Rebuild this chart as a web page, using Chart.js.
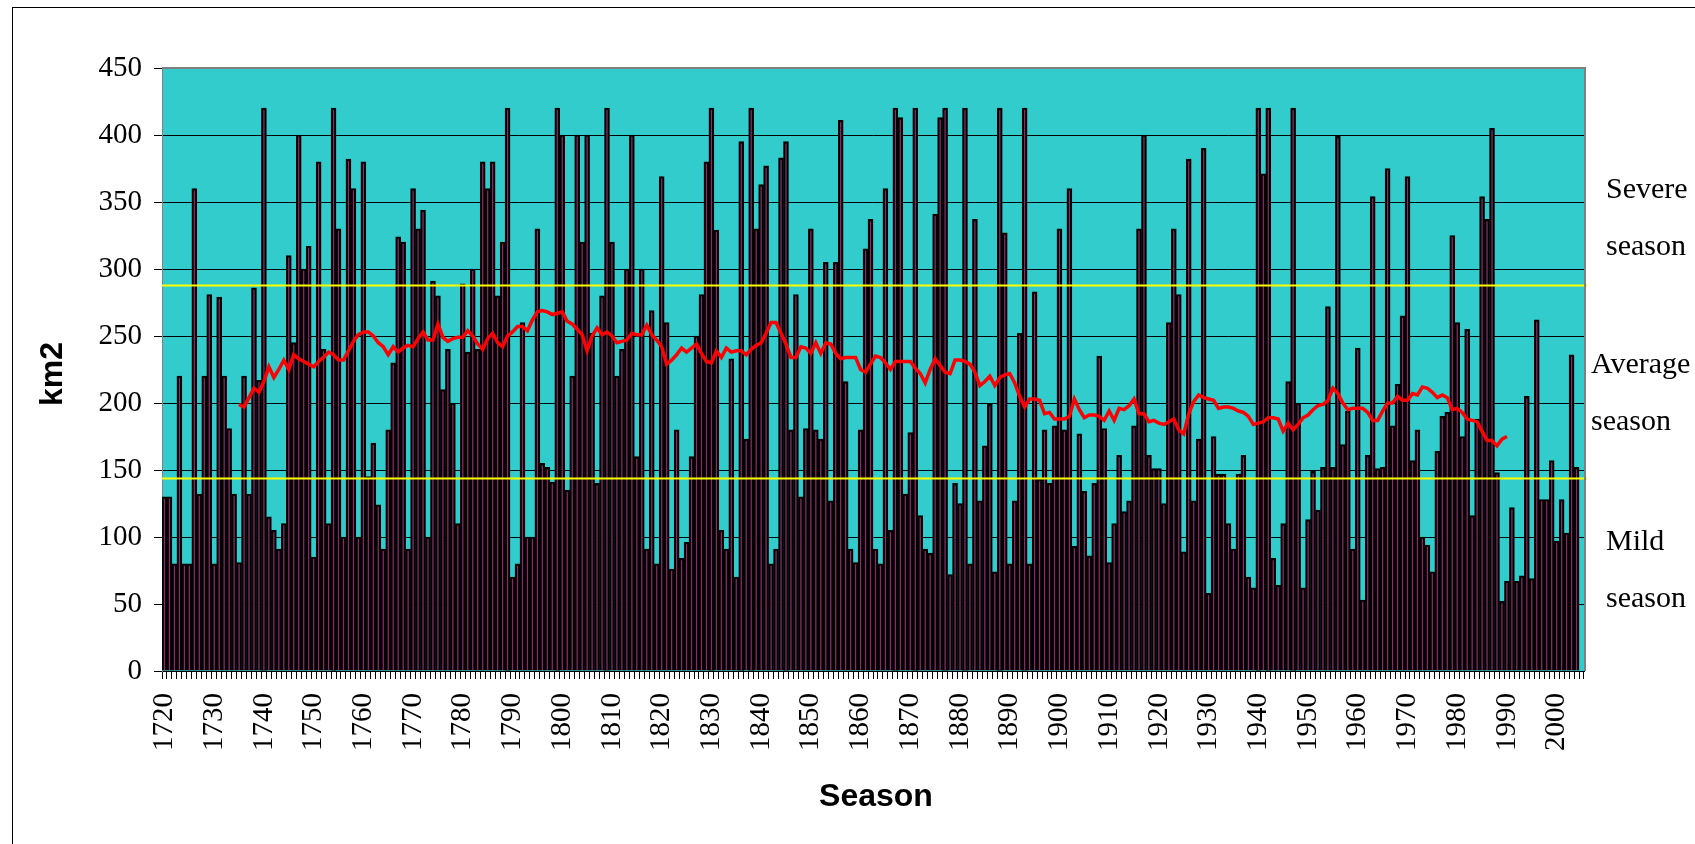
<!DOCTYPE html>
<html>
<head>
<meta charset="utf-8">
<script src="https://cdn.jsdelivr.net/npm/chart.js@4.4.1/dist/chart.umd.min.js"></script>
<style>
  html, body { margin: 0; padding: 0; background: #fff; }
  #chart_canvas { display: block; }
</style>
</head>
<body>
<canvas id="chart_canvas" width="1695" height="844"></canvas>
<script>
// seasons 1720..2005, one bar per season (km2)
const firstYear = 1720;
const lastYear = 2005;

const seasonArea = [
	130, 130, 80, 220, 80, 80, 360, 132, 220, 281,      // 1720s
	80, 279, 220, 181, 132, 81, 220, 132, 286, 217,     // 1730s
	420, 115, 105, 91, 110, 310, 245, 400, 300, 317,    // 1740s
	85, 380, 240, 110, 420, 330, 100, 382, 360, 100,    // 1750s
	380, 145, 170, 124, 91, 180, 230, 324, 320, 91,     // 1760s
	360, 330, 344, 100, 291, 280, 210, 240, 200, 110,   // 1770s
	289, 238, 300, 240, 380, 360, 380, 280, 320, 420,   // 1780s
	70, 80, 260, 100, 100, 330, 155, 152, 141, 420,     // 1790s
	400, 135, 220, 400, 320, 400, 252, 140, 280, 420,   // 1800s
	320, 220, 240, 300, 400, 160, 300, 91, 269, 80,     // 1810s
	369, 260, 76, 180, 84, 96, 160, 250, 281, 380,      // 1820s
	420, 329, 105, 91, 233, 70, 395, 173, 420, 330,     // 1830s
	363, 377, 80, 91, 383, 395, 180, 281, 130, 181,     // 1840s
	330, 180, 173, 305, 127, 305, 411, 216, 91, 81,     // 1850s
	180, 315, 337, 91, 80, 360, 105, 420, 413, 132,     // 1860s
	178, 420, 116, 91, 88, 341, 413, 420, 72, 140,      // 1870s
	125, 420, 80, 337, 127, 168, 199, 74, 420, 327,     // 1880s
	80, 127, 252, 420, 80, 283, 143, 180, 140, 183,     // 1890s
	330, 180, 360, 93, 177, 134, 86, 140, 235, 181,     // 1900s
	81, 110, 161, 119, 127, 183, 330, 400, 161, 151,    // 1910s
	151, 125, 260, 330, 281, 89, 382, 127, 173, 390,    // 1920s
	58, 175, 147, 147, 110, 91, 147, 161, 70, 62,       // 1930s
	420, 371, 420, 84, 64, 110, 216, 420, 200, 62,      // 1940s
	113, 149, 120, 152, 272, 152, 399, 169, 194, 91,    // 1950s
	241, 53, 161, 354, 151, 152, 375, 183, 214, 265,    // 1960s
	369, 157, 180, 100, 94, 74, 164, 190, 193, 325,     // 1970s
	260, 175, 255, 116, 188, 354, 337, 405, 148, 52,    // 1980s
	67, 122, 67, 71, 205, 69, 262, 128, 128, 157,       // 1990s
	97, 128, 103, 236, 152, null                        // 2000s
];

// red running mean (1735..1990)
const runningMean = [
	null, null, null, null, null, null, null, null, null, null,
	null, null, null, null, null, 199, 197, 204, 211, 208,
	216, 227, 219, 225, 232, 225, 236, 233, 231, 229,
	227, 231, 234, 238, 236, 232, 232, 239, 246, 251,
	253, 253, 250, 245, 242, 236, 242, 238, 241, 243,
	242, 248, 253, 247, 247, 259, 249, 246, 248, 249,
	249, 254, 250, 244, 240, 248, 252, 245, 242, 250,
	253, 257, 257, 254, 262, 268, 269, 268, 266, 267,
	268, 261, 259, 255, 251, 239, 250, 256, 251, 253,
	250, 245, 246, 247, 252, 251, 251, 258, 251, 247,
	242, 229, 232, 236, 241, 238, 241, 244, 237, 231,
	230, 239, 234, 241, 238, 239, 239, 236, 240, 243,
	245, 252, 260, 260, 252, 244, 234, 234, 242, 241,
	237, 245, 237, 245, 244, 237, 233, 234, 234, 234,
	225, 223, 229, 235, 234, 230, 225, 231, 231, 231,
	231, 226, 222, 215, 225, 233, 228, 223, 222, 232,
	232, 231, 229, 223, 213, 216, 220, 213, 219, 221,
	222, 215, 205, 197, 203, 203, 202, 192, 193, 188,
	188, 188, 190, 203, 195, 189, 191, 191, 190, 187,
	194, 187, 196, 195, 198, 203, 192, 192, 186, 187,
	185, 184, 186, 188, 180, 177, 192, 201, 206, 204,
	203, 202, 196, 197, 197, 196, 194, 193, 190, 184,
	185, 186, 189, 189, 188, 179, 185, 180, 184, 189,
	191, 195, 198, 199, 202, 211, 207, 200, 195, 196,
	196, 196, 193, 187, 187, 194, 200, 200, 205, 202,
	202, 207, 206, 212, 211, 208, 204, 206, 204, 195,
	196, 193, 188, 187, 186, 179, 172, 172, 168, 173,
	175, null, null, null, null, null, null, null, null, null,
	null, null, null, null, null, null
];

// class limits (yellow lines)
const severeLimit = 288;
const mildLimit = 144;

const sideLabels = [
	{ text: 'Severe', x: 1606, y: 198 },
	{ text: 'season', x: 1606, y: 255 },
	{ text: 'Average', x: 1591, y: 373 },
	{ text: 'season', x: 1591, y: 430 },
	{ text: 'Mild', x: 1606, y: 550 },
	{ text: 'season', x: 1606, y: 607 }
];

let years = [];
for (let y = firstYear; y <= lastYear; y++) years.push(y);

const serif = '"Liberation Serif", "Times New Roman", serif';
const sans = '"Liberation Sans", Arial, sans-serif';

const decor = {
	id: 'decor',
	beforeDraw(chart) {
		const { ctx, chartArea: a } = chart;
		ctx.save();
		ctx.fillStyle = '#ffffff';
		ctx.fillRect(0, 0, chart.width, chart.height);
		ctx.fillStyle = '#33cccc';
		ctx.fillRect(a.left, a.top, a.right - a.left, a.bottom - a.top);
		ctx.restore();
	},
	afterDatasetsDraw(chart) {
		const { ctx, chartArea: a } = chart;
		const ys = chart.scales.y;
		ctx.save();
		ctx.strokeStyle = '#ffff00';
		ctx.lineWidth = 2;
		[severeLimit, mildLimit].forEach(v => {
			const py = Math.round(ys.getPixelForValue(v)) + 0.5;
			ctx.beginPath();
			ctx.moveTo(a.left, py);
			ctx.lineTo(a.right + 3, py);
			ctx.stroke();
		});
		// plot frame (top / right)
		ctx.strokeStyle = '#808080';
		ctx.lineWidth = 2;
		ctx.beginPath();
		ctx.moveTo(a.left, a.top);
		ctx.lineTo(a.right + 1, a.top);
		ctx.lineTo(a.right + 1, a.bottom);
		ctx.stroke();
		ctx.restore();
	},
	afterDraw(chart) {
		const { ctx, chartArea: a } = chart;
		ctx.save();
		ctx.strokeStyle = '#000000';
		ctx.lineWidth = 1;
		ctx.strokeRect(12.5, 7.5, 1700, 900);

		ctx.fillStyle = '#000000';
		ctx.font = 'bold 32px ' + sans;
		ctx.textAlign = 'center';
		ctx.textBaseline = 'middle';
		ctx.fillText('Season', (a.left + a.right) / 2 + 3, 797);

		ctx.save();
		ctx.translate(53, 374);
		ctx.rotate(-Math.PI / 2);
		ctx.fillText('km2', 0, 0);
		ctx.restore();

		ctx.font = '30px ' + serif;
		ctx.textAlign = 'left';
		ctx.textBaseline = 'alphabetic';
		sideLabels.forEach(l => ctx.fillText(l.text, l.x, l.y));
		ctx.restore();
	}
};

const ctx = document.getElementById('chart_canvas').getContext('2d');
const season_chart = new Chart(ctx, {
	data: {
		labels: years,
		datasets: [{
			type: 'line',
			label: 'Running mean',
			data: runningMean,
			borderColor: '#ff0000',
			borderWidth: 3.5,
			pointRadius: 0,
			tension: 0,
			fill: false,
			spanGaps: false,
			order: 0
		}, {
			type: 'bar',
			label: 'Area',
			data: seasonArea,
			backgroundColor: '#8a2d66',
			borderColor: '#000000',
			borderWidth: 2.2,
			barPercentage: 1,
			categoryPercentage: 1,
			order: 1
		}]
	},
	options: {
		responsive: false,
		animation: false,
		devicePixelRatio: 1,
		layout: { padding: { top: 68, right: 111, left: 0, bottom: 0 } },
		plugins: { legend: { display: false }, tooltip: { enabled: false } },
		scales: {
			x: {
				type: 'category',
				offset: true,
				grid: { offset: true, drawOnChartArea: false, tickLength: 8, color: '#000000' },
				border: { color: '#000000', width: 1 },
				ticks: {
					autoSkip: false,
					minRotation: 90,
					maxRotation: 90,
					padding: 14,
					color: '#000000',
					font: { family: serif, size: 29 },
					callback: function(v, i) { return years[i] % 10 === 0 ? String(years[i]) : ''; }
				},
				afterFit: function(s) { s.height = 173; }
			},
			y: {
				min: 0,
				max: 450,
				grid: { color: '#000000', lineWidth: 1, tickLength: 8 },
				border: { color: '#808080', width: 1 },
				ticks: {
					stepSize: 50,
					padding: 12,
					color: '#000000',
					font: { family: serif, size: 29 }
				},
				afterFit: function(s) { s.width = 162; }
			}
		}
	},
	plugins: [decor]
});
</script>
</body>
</html>
